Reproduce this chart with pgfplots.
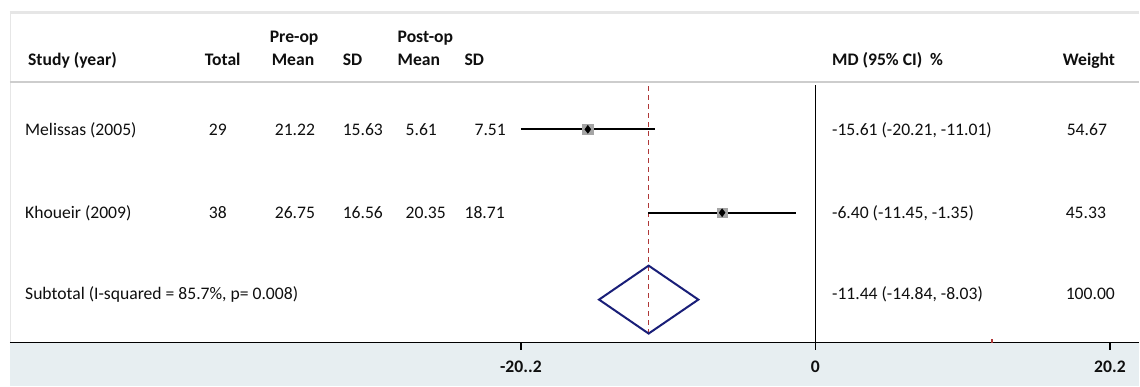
\documentclass[border=0pt]{standalone}
\usepackage{pgfplots}
\pgfplotsset{compat=1.18}
\usepackage{fontspec}
\setmainfont{Carlito}
\definecolor{bgblue}{RGB}{231,238,241}
\definecolor{hdrline}{RGB}{205,205,205}
\definecolor{topline}{RGB}{230,230,230}
\definecolor{refred}{RGB}{175,55,55}
\definecolor{navyd}{RGB}{25,30,120}
\definecolor{sqgray}{RGB}{165,165,165}
\definecolor{txt}{RGB}{15,15,15}
\begin{document}
\begin{tikzpicture}[
  tx/.style={inner sep=0pt, anchor=base west, text=txt, font=\fontsize{17.7}{20}\selectfont},
  hd/.style={tx, font=\fontsize{17.7}{20}\selectfont\bfseries}]
\fill[white] (0bp,0bp) rectangle (1140bp,387bp);
\fill[bgblue] (10bp,0bp) rectangle (1140bp,44bp);
\draw[topline, line width=3bp] (10bp,374bp) -- (1140bp,374bp);
\draw[topline, line width=1bp] (10.5bp,44bp) -- (10.5bp,374bp);
\draw[hdrline, line width=2bp] (10bp,304.5bp) -- (1140bp,304.5bp);
\begin{axis}[at={(10bp,0bp)}, anchor=south west,
  width=1130bp, height=374bp, scale only axis,
  xmin=-55.24, xmax=22.16, ymin=-44, ymax=330,
  axis x line*=middle, axis y line=none,
  x axis line style={line width=1.5bp, black},
  xtick={-20.2,0,20.2}, xticklabels={-20..2,0,20.2},
  xticklabel style={font=\fontsize{17.7}{20}\selectfont\bfseries, text=txt, yshift=-11bp},
  tick align=center, major tick length=7bp,
  xtick style={line width=1.3bp, black, yshift=-3.5bp},
  clip=false]
% zero line
\addplot[black, line width=1.5bp] coordinates {(0,0) (0,258)};
% pooled estimate line
\addplot[refred, line width=1.3bp, dash pattern=on 5bp off 4bp] coordinates {(-11.44,9) (-11.44,257)};
\addplot[refred, line width=1.4bp] coordinates {(12.1,0) (12.1,4)};
% confidence intervals
\addplot[black, line width=2.2bp] coordinates {(-20.21,213.5) (-11.01,213.5)};
\addplot[black, line width=2.2bp] coordinates {(-11.45,130) (-1.35,130)};
% weight boxes
\addplot[only marks, mark=square*, mark size=5.2bp, sqgray] coordinates {(-15.61,213.5)};
\addplot[only marks, mark=square*, mark size=4.8bp, sqgray] coordinates {(-6.40,130)};
\addplot[only marks, mark=diamond*, mark size=4bp, black] coordinates {(-15.61,213.5) (-6.40,130)};
% pooled diamond
\addplot[navyd, line width=2bp, line join=miter] coordinates {(-14.84,43) (-11.44,77) (-8.03,43) (-11.44,9) (-14.84,43) (-11.44,77)};
\end{axis}
% header
\node[hd] at (28bp,321bp) {Study (year)};
\node[hd] at (205bp,321bp) {Total};
\node[hd] at (270bp,344bp) {Pre-op};
\node[hd] at (272bp,321bp) {Mean};
\node[hd] at (343bp,321bp) {SD};
\node[hd] at (398bp,344bp) {Post-op};
\node[hd] at (398bp,321bp) {Mean};
\node[hd] at (465bp,321bp) {SD};
\node[hd] at (833bp,321bp) {MD (95\% CI)\hspace{0.45em}\%};
\node[hd] at (1064bp,321bp) {Weight};
% row 1
\node[tx] at (25bp,251.5bp) {Melissas (2005)};
\node[tx] at (209bp,251.5bp) {29};
\node[tx] at (275bp,251.5bp) {21.22};
\node[tx] at (343bp,251.5bp) {15.63};
\node[tx] at (406bp,251.5bp) {5.61};
\node[tx] at (475bp,251.5bp) {7.51};
\node[tx] at (833bp,251.5bp) {-15.61 (-20.21, -11.01)};
\node[tx] at (1068bp,251.5bp) {54.67};
% row 2
\node[tx] at (25bp,168.5bp) {Khoueir (2009)};
\node[tx] at (209bp,168.5bp) {38};
\node[tx] at (275bp,168.5bp) {26.75};
\node[tx] at (343bp,168.5bp) {16.56};
\node[tx] at (406bp,168.5bp) {20.35};
\node[tx] at (465bp,168.5bp) {18.71};
\node[tx] at (833bp,168.5bp) {-6.40 (-11.45, -1.35)};
\node[tx] at (1067bp,168.5bp) {45.33};
% row 3
\node[tx] at (25bp,87bp) {Subtotal (I-squared = 85.7\%, p= 0.008)};
\node[tx] at (833bp,87bp) {-11.44 (-14.84, -8.03)};
\node[tx] at (1067bp,87bp) {100.00};
\end{tikzpicture}
\end{document}
